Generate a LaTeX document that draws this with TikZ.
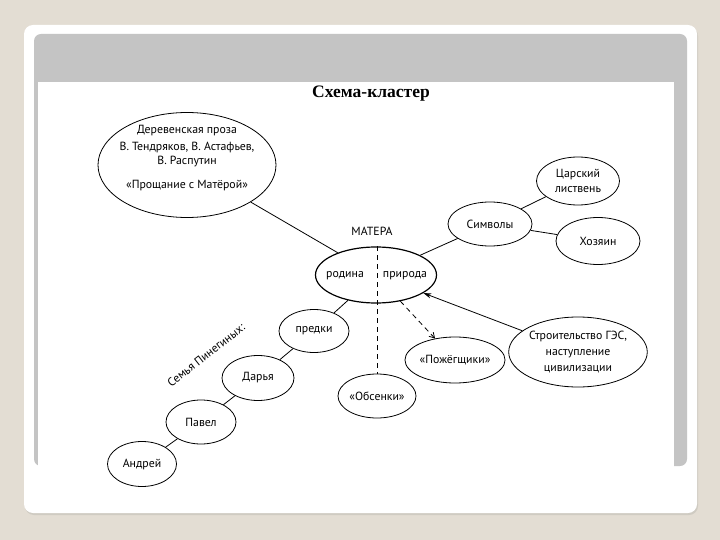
\documentclass[tikz,border=0pt]{standalone}
\usepackage{fontspec}
\setmainfont{PT Sans}
\newfontfamily\titlefont{Liberation Serif}
\usetikzlibrary{shapes.geometric,arrows.meta}
\definecolor{bgbeige}{HTML}{E3DDD3}
\definecolor{bandgrey}{HTML}{C4C4C4}
\definecolor{cardedge}{HTML}{CFCBC2}
\tikzset{
  oval/.style={ellipse,draw=black,line width=0.8pt,inner sep=0pt,align=center,font=\fontsize{11.8}{14}\selectfont},
  link/.style={draw=black,line width=0.8pt},
  dlink/.style={draw=black,line width=0.8pt,dash pattern=on 5pt off 4pt},
  lbl/.style={font=\fontsize{11.8}{14}\selectfont,inner sep=0pt}
}
\begin{document}
\begin{tikzpicture}[x=1pt,y=-1pt]
\useasboundingbox (0,0) rectangle (720,540);
\fill[bgbeige] (0,0) rectangle (720,540);
% card
\fill[cardedge] (25,27) [rounded corners=9pt] rectangle (698,515);
\fill[white,rounded corners=9pt] (24,25) rectangle (697,513);
% grey band
\fill[bandgrey,rounded corners=7pt] (34,34) rectangle (687,466);
\fill[white] (38,82) rectangle (674,513);
% title
\node[font=\titlefont\bfseries\fontsize{17.5}{20}\selectfont,inner sep=0pt] (title) at (371,94) {Схема-кластер};
% nodes
\node[oval,minimum width=178pt,minimum height=105pt] (prose) at (187,165) {};
\node[lbl] (p1) at (187,131) {Деревенская проза};
\node[lbl] (p2) at (187,147) {В. Тендряков, В. Астафьев,};
\node[lbl] (p3) at (187,162) {В. Распутин};
\node[lbl] (p4) at (187,186) {«Прощание с Матёрой»};

\node[lbl] (matlabel) at (372,231) {МАТЕРА};
\node[ellipse,draw=black,line width=1.2pt,inner sep=0pt,minimum width=121pt,minimum height=56pt] (center) at (376,275) {};
\node[lbl] (rodina) at (345,276) {родина};
\node[lbl] (priroda) at (405,276) {природа};

\node[oval,minimum width=84pt,minimum height=44pt] (symb) at (490,224) {Символы};
\node[oval,minimum width=83pt,minimum height=48pt,font=\fontsize{11.8}{15}\selectfont] (tsar) at (578,181) {Царский\\листвень};
\node[oval,minimum width=84pt,minimum height=47pt] (hoz) at (598,241) {Хозяин};
\node[oval,minimum width=132pt,minimum height=70pt,font=\fontsize{11.8}{16}\selectfont] (ges) at (578,352) {Строительство ГЭС,\\наступление\\цивилизации};
\node[oval,minimum width=84pt,minimum height=46pt] (pozh) at (455,360) {«Пожёгщики»};
\node[oval,minimum width=73pt,minimum height=44pt] (obs) at (377,396) {«Обсенки»};
\node[oval,minimum width=70pt,minimum height=43pt] (predki) at (314,331) {предки};
\node[oval,minimum width=72pt,minimum height=45pt] (darya) at (258,378) {Дарья};
\node[oval,minimum width=70pt,minimum height=44pt] (pavel) at (201,422) {Павел};
\node[oval,minimum width=69pt,minimum height=45pt] (andrey) at (142,464) {Андрей};

\node[lbl,rotate=38] (family) at (206,355) {Семья Пинегиных:};

% connectors
\coordinate (dtop) at (377,246);
\draw[dlink] (dtop) -- (obs.north);
\draw[link] (prose) -- (center);
\draw[link] (center) -- (symb);
\draw[link] (symb) -- (tsar);
\draw[link] (symb) -- (hoz);
\draw[link,-{Stealth[length=8pt,width=5pt]}] (ges) -- (center);
\draw[dlink,-{Straight Barb[length=5pt,width=6pt]}] (center) -- (pozh);
\draw[link] (center) -- (predki);
\draw[link] (predki) -- (darya);
\draw[link] (darya) -- (pavel);
\draw[link] (pavel) -- (andrey);
\end{tikzpicture}
\end{document}
